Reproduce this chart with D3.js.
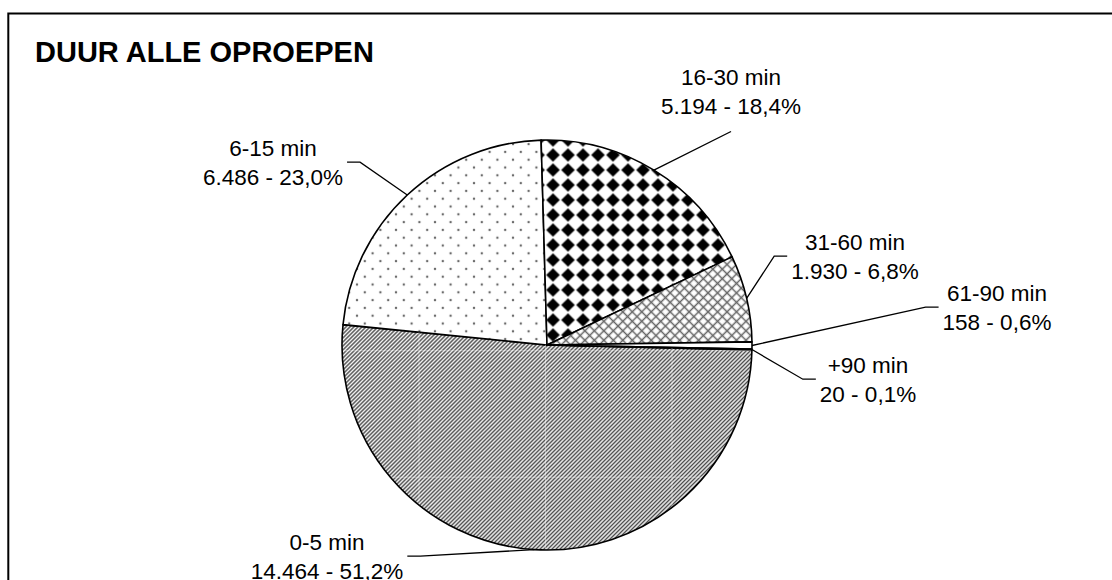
<!DOCTYPE html>
<html>
<head>
<meta charset="utf-8">
<script src="https://cdn.jsdelivr.net/npm/d3@7"></script>
<style>
  html, body { margin: 0; padding: 0; background: #fff; }
  svg { display: block; }
  text { font-family: "Liberation Sans", Arial, sans-serif; fill: #000; }
</style>
</head>
<body>
<svg id="chart" width="1112" height="580"></svg>
<script>
// Call duration categories and number of calls
const categories = ["0-5 min", "6-15 min", "16-30 min", "31-60 min", "61-90 min", "+90 min"];
const counts = [14464, 6486, 5194, 1930, 158, 20];
const chartTitle = "DUUR ALLE OPROEPEN";

// Label layout: x centre, first-line baseline, side the leader line attaches to
const labelX = [327, 273, 731, 855, 997, 868];
const labelY = [550, 156, 85, 250, 301, 373];
const leaderSide = ["right", "right", "below", "left", "left", "left"];
const sliceFills = ["url(#hatch)", "url(#dots)", "url(#diamonds)", "url(#cross)", "#fff", "#fff"];

const W = 1112, H = 580;
const cx = 547, cy = 345, radius = 205;
const labelSize = 22.5, lineGap = 28.5;

const nl = d3.formatLocale({ decimal: ",", thousands: ".", grouping: [3], currency: ["€", ""] });
const fmtCount = nl.format(",d");
const fmtPct = nl.format(".1f");
const total = d3.sum(counts);

const svg = d3.select("#chart");
svg.append("rect").attr("width", W).attr("height", H).attr("fill", "#fff");

// Fill patterns
const defs = svg.append("defs");

const hatch = defs.append("pattern").attr("id", "hatch")
  .attr("patternUnits", "userSpaceOnUse").attr("width", 2.83).attr("height", 2.83)
  .attr("patternTransform", "rotate(-45)");
hatch.append("rect").attr("width", 2.83).attr("height", 2.83).attr("fill", "#fff");
hatch.append("rect").attr("width", 2.83).attr("height", 1.4).attr("fill", "#444");

const seam = defs.append("pattern").attr("id", "seam")
  .attr("patternUnits", "userSpaceOnUse").attr("width", 126.5).attr("height", 126.5)
  .attr("x", 377.5).attr("y", 511.2);
seam.append("path").attr("d", "M0.5,0V126.5M0,0.5H126.5")
  .attr("stroke", "#fff").attr("stroke-opacity", 0.4).attr("stroke-width", 1).attr("fill", "none");

const dots = defs.append("pattern").attr("id", "dots")
  .attr("patternUnits", "userSpaceOnUse").attr("width", 15.6).attr("height", 15.6)
  .attr("x", 352.1).attr("y", 278.8);
dots.append("rect").attr("width", 15.6).attr("height", 15.6).attr("fill", "#fff");
dots.append("circle").attr("cx", 3.9).attr("cy", 3.9).attr("r", 1.2).attr("fill", "#6a6a6a");
dots.append("circle").attr("cx", 11.7).attr("cy", 11.7).attr("r", 1.2).attr("fill", "#6a6a6a");

const diamonds = defs.append("pattern").attr("id", "diamonds")
  .attr("patternUnits", "userSpaceOnUse").attr("width", 15).attr("height", 15)
  .attr("x", 538.5).attr("y", 147.5);
diamonds.append("rect").attr("width", 15).attr("height", 15).attr("fill", "#fff");
diamonds.append("polygon").attr("points", "7.5,0.7 14.3,7.5 7.5,14.3 0.7,7.5").attr("fill", "#000");

const cross = defs.append("pattern").attr("id", "cross")
  .attr("patternUnits", "userSpaceOnUse").attr("width", 6.7).attr("height", 6.7)
  .attr("patternTransform", "rotate(45)");
cross.append("rect").attr("width", 6.7).attr("height", 6.7).attr("fill", "#fff");
cross.append("rect").attr("y", 2.6).attr("width", 6.7).attr("height", 1.5).attr("fill", "#666");
cross.append("rect").attr("x", 2.6).attr("width", 1.5).attr("height", 6.7).attr("fill", "#666");

// Chart frame
svg.append("rect").attr("x", 8.3).attr("y", 13.5).attr("width", 1300).attr("height", 800)
  .attr("fill", "none").attr("stroke", "#000").attr("stroke-width", 2);

// Title
svg.append("text").attr("x", 35).attr("y", 62)
  .attr("font-size", 29).attr("font-weight", "bold").text(chartTitle);

// Pie
const startDeg = 91.4;
const start = startDeg * Math.PI / 180;
const pie = d3.pie().sort(null).value(d => d).startAngle(start).endAngle(start + 2 * Math.PI);
const arcs = pie(counts);
const arc = d3.arc().innerRadius(0).outerRadius(radius);
const innerArc = d3.arc().innerRadius(0).outerRadius(radius - 1);

const g = svg.append("g").attr("transform", `translate(${cx},${cy})`);
g.selectAll("path.slice").data(arcs).join("path")
  .attr("class", "slice")
  .attr("d", arc)
  .attr("fill", (d, i) => sliceFills[i])
  .attr("stroke", "#000").attr("stroke-width", 1.6).attr("stroke-linejoin", "round");

// faint tile seams across the hatched slice
g.append("path").attr("d", innerArc(arcs[0])).attr("fill", "url(#seam)");

// Labels and leader lines
const labels = svg.append("g");
arcs.forEach((d, i) => {
  const pct = fmtPct(counts[i] / total * 100) + "%";
  const t = labels.append("text")
    .attr("text-anchor", "middle").attr("font-size", labelSize);
  t.append("tspan").attr("x", labelX[i]).attr("y", labelY[i]).text(categories[i]);
  t.append("tspan").attr("x", labelX[i]).attr("y", labelY[i] + lineGap)
    .text(fmtCount(counts[i]) + " - " + pct);

  const bb = t.node().getBBox();
  const mid = ((labelY[i] - 0.716 * labelSize) + (labelY[i] + lineGap)) / 2;
  const a = (d.startAngle + d.endAngle) / 2;
  const p0 = [cx + radius * Math.sin(a), cy - radius * Math.cos(a)];
  let pts;
  if (leaderSide[i] === "right") {
    const x1 = bb.x + bb.width + 4;
    pts = [[x1, mid], [x1 + 13, mid], p0];
  } else if (leaderSide[i] === "left") {
    const x1 = bb.x - 4;
    pts = [[x1, mid], [x1 - 13, mid], p0];
  } else {
    pts = [[labelX[i], labelY[i] + lineGap + 18], p0];
  }
  svg.append("path")
    .attr("d", d3.line()(pts))
    .attr("fill", "none").attr("stroke", "#000").attr("stroke-width", 1.3);
});
</script>
</body>
</html>
